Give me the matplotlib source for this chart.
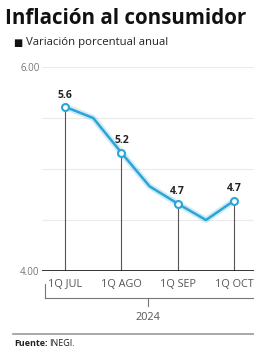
import matplotlib
matplotlib.use("Agg")
import matplotlib.pyplot as plt
from matplotlib.lines import Line2D

# Biweekly annual inflation, Mexico 2024
periods = ["1Q JUL", "2Q JUL", "1Q AGO", "2Q AGO", "1Q SEP", "2Q SEP", "1Q OCT"]
values = [5.61, 5.50, 5.16, 4.83, 4.66, 4.50, 4.69]
labeled = [0, 2, 4, 6]          # points with marker, drop line and value label
y_ticks = [4.0, 6.0]
grid_vals = [4.5, 5.0, 5.5, 6.0]
year = "2024"

plt.rcParams["font.family"] = ["Open Sans", "DejaVu Sans"]

W, H = 255, 350
fig = plt.figure(figsize=(W / 100, H / 100), dpi=100)
ax = fig.add_axes([0.1663, 0.2257, 0.8627, 0.5829])

x = list(range(len(values)))
line_col = "#2aa6d6"

for g in grid_vals:
    ax.axhline(g, color="#ebebeb", lw=0.8, zorder=0)

# drop lines
for i in labeled:
    ax.plot([i, i], [4.0, values[i]], color="#555555", lw=0.8, zorder=1)

# glow + line
ax.plot(x, values, color=line_col, lw=4.5, alpha=0.22, zorder=2, solid_capstyle="round")
ax.plot(x, values, color=line_col, lw=1.8, zorder=3, solid_joinstyle="round")
ax.plot([x[i] for i in labeled], [values[i] for i in labeled], "o", ms=5,
        mfc="white", mec=line_col, mew=1.5, zorder=4)

for i in labeled:
    ax.annotate(f"{values[i]:.1f}", (x[i], values[i]), xytext=(0, 4.5),
                textcoords="offset points", ha="center", va="bottom",
                fontsize=7.5, fontweight="bold", color="#222222")

ax.axhline(4.0, color="#222222", lw=2, zorder=5)

ax.set_xlim(-0.8, 7)
ax.set_ylim(4.0, 6.0)
ax.set_yticks(y_ticks)
ax.set_yticklabels([f"{v:.2f}" for v in y_ticks], fontsize=7, color="#777777")
ax.tick_params(axis="y", length=0, pad=2)
ax.set_xticks([x[i] for i in labeled])
ax.set_xticklabels([periods[i] for i in labeled], fontsize=7.8, color="#555555")
ax.tick_params(axis="x", length=0, pad=6)
for s in ax.spines.values():
    s.set_visible(False)

def fy(py):
    return (H - py) / H

# title and subtitle
fig.text(5 / W, fy(18), "Inflación al consumidor", fontsize=14.8, fontweight="bold",
         color="#111111", va="center", ha="left")
fig.text(13 / W, fy(43), "■", fontsize=7, color="#111111", va="center", ha="left",
         family="DejaVu Sans")
fig.text(26 / W, fy(43), "Variación porcentual anual", fontsize=8.2, color="#222222",
         va="center", ha="left")

# year bracket
bc = "#777777"
yb = fy(298)
fig.add_artist(Line2D([45 / W, 1.0], [yb, yb], color=bc, lw=0.8))
fig.add_artist(Line2D([45 / W, 45 / W], [yb, fy(284)], color=bc, lw=0.8))
fig.add_artist(Line2D([148 / W, 148 / W], [yb, fy(306)], color=bc, lw=0.8))
fig.text(148 / W, fy(318), year, fontsize=7.8, color="#555555",
         ha="center", va="center")

# source
fig.add_artist(Line2D([13 / W, 1.0], [fy(334)] * 2, color="#999999", lw=1.2))
fig.text(14 / W, fy(344), "Fuente:", fontsize=6.5, fontweight="bold",
         color="#222222", va="center", ha="left")
fig.text(49 / W, fy(344), "INEGI.", fontsize=6.5, color="#222222",
         va="center", ha="left")

fig.savefig("out.png", dpi=100)
